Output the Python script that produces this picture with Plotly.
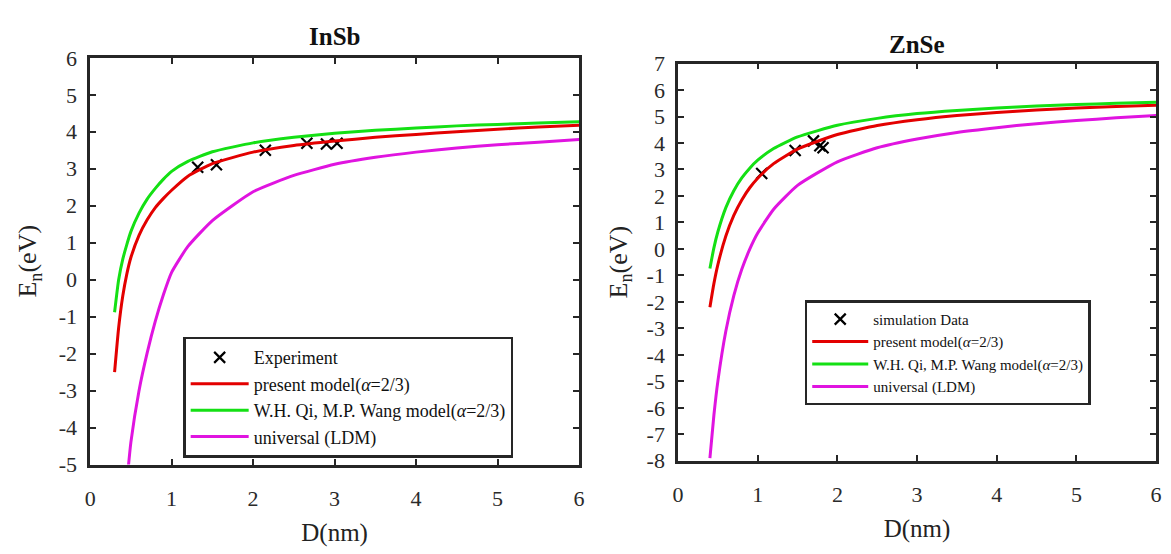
import plotly.graph_objects as go

FONT = "Liberation Serif"
AX = "#262626"

# ---------------- InSb data ----------------
insb_x = [0.3, 0.35, 0.4, 0.45, 0.5, 0.6, 0.7, 0.8, 0.9, 1.0, 1.2, 1.5, 2.0, 2.5, 3.0, 3.5, 4.0, 4.5, 5.0, 5.5, 6.0]
insb_present = [-2.5, -1.3, -0.45, 0.15, 0.6, 1.2, 1.62, 1.95, 2.2, 2.42, 2.8, 3.14, 3.45, 3.63, 3.75, 3.85, 3.93, 4.0, 4.07, 4.13, 4.18]
insb_qiwang = [-0.88, 0.0, 0.55, 0.95, 1.3, 1.8, 2.18, 2.47, 2.72, 2.93, 3.2, 3.46, 3.7, 3.85, 3.96, 4.04, 4.1, 4.16, 4.2, 4.24, 4.27]
insb_ldm_x = [0.45, 0.5, 0.6, 0.7, 0.8, 0.9, 1.0, 1.2, 1.5, 2.0, 2.5, 3.0, 3.5, 4.0, 4.5, 5.0, 5.5, 6.0]
insb_ldm = [-5.5, -4.4, -3.0, -1.98, -1.12, -0.4, 0.2, 0.9, 1.6, 2.38, 2.82, 3.12, 3.31, 3.45, 3.56, 3.65, 3.72, 3.79]
insb_exp_x = [1.32, 1.55, 2.15, 2.66, 2.9, 3.03]
insb_exp_y = [3.04, 3.11, 3.5, 3.69, 3.67, 3.69]

# ---------------- ZnSe data ----------------
znse_x = [0.4, 0.45, 0.5, 0.6, 0.7, 0.8, 0.9, 1.0, 1.2, 1.5, 2.0, 2.5, 3.0, 3.5, 4.0, 4.5, 5.0, 5.5, 6.0]
znse_present = [-2.2, -1.31, -0.59, 0.49, 1.27, 1.85, 2.31, 2.67, 3.22, 3.77, 4.32, 4.66, 4.88, 5.04, 5.15, 5.25, 5.32, 5.38, 5.43]
znse_qiwang = [-0.74, 0.04, 0.65, 1.56, 2.2, 2.68, 3.05, 3.35, 3.79, 4.23, 4.67, 4.93, 5.11, 5.23, 5.32, 5.4, 5.45, 5.5, 5.54]
znse_ldm = [-7.9, -6.28, -4.99, -3.1, -1.76, -0.77, -0.01, 0.6, 1.5, 2.4, 3.29, 3.82, 4.15, 4.4, 4.58, 4.73, 4.85, 4.95, 5.04]
znse_sim_x = [1.05, 1.47, 1.7, 1.78, 1.82]
znse_sim_y = [2.85, 3.72, 4.08, 3.9, 3.82]

# ---------------- tick labels ----------------
x_ticks = [0, 1, 2, 3, 4, 5, 6]
x_ticktext = ["0", "1", "2", "3", "4", "5", "6"]
insb_yticks = [6, 5, 4, 3, 2, 1, 0, -1, -2, -3, -4, -5]
insb_yticktext = ["6", "5", "4", "3", "2", "1", "0", "-1", "-2", "-3", "-4", "-5"]
znse_yticks = [7, 6, 5, 4, 3, 2, 1, 0, -1, -2, -3, -4, -5, -6, -7, -8]
znse_yticktext = ["7", "6", "5", "4", "3", "2", "1", "0", "-1", "-2", "-3", "-4", "-5", "-6", "-7", "-8"]

RED = "#e30000"
GREEN = "#14e014"
MAG = "#e014e0"
LW = 3

fig = go.Figure()

marker_style = dict(symbol="x-thin", size=11, color="black", line=dict(width=2.2, color="black"))
spl = dict(shape="spline", smoothing=0.5)

# InSb traces
fig.add_trace(go.Scatter(x=insb_exp_x, y=insb_exp_y, mode="markers", name="Experiment",
                         marker=marker_style, xaxis="x", yaxis="y", legend="legend"))
fig.add_trace(go.Scatter(x=insb_x, y=insb_present, mode="lines", name="present model(<i>α</i>=2/3)",
                         line=dict(color=RED, width=LW, **spl), xaxis="x", yaxis="y", legend="legend"))
fig.add_trace(go.Scatter(x=insb_x, y=insb_qiwang, mode="lines", name="W.H. Qi, M.P. Wang model(<i>α</i>=2/3)",
                         line=dict(color=GREEN, width=LW, **spl), xaxis="x", yaxis="y", legend="legend"))
fig.add_trace(go.Scatter(x=insb_ldm_x, y=insb_ldm, mode="lines", name="universal (LDM)",
                         line=dict(color=MAG, width=LW, **spl), xaxis="x", yaxis="y", legend="legend"))

# ZnSe traces
fig.add_trace(go.Scatter(x=znse_sim_x, y=znse_sim_y, mode="markers", name="simulation Data",
                         marker=marker_style, xaxis="x2", yaxis="y2", legend="legend2"))
fig.add_trace(go.Scatter(x=znse_x, y=znse_present, mode="lines", name="present model(<i>α</i>=2/3)",
                         line=dict(color=RED, width=LW, **spl), xaxis="x2", yaxis="y2", legend="legend2"))
fig.add_trace(go.Scatter(x=znse_x, y=znse_qiwang, mode="lines", name="W.H. Qi, M.P. Wang model(<i>α</i>=2/3)",
                         line=dict(color=GREEN, width=LW, **spl), xaxis="x2", yaxis="y2", legend="legend2"))
fig.add_trace(go.Scatter(x=znse_x, y=znse_ldm, mode="lines", name="universal (LDM)",
                         line=dict(color=MAG, width=LW, **spl), xaxis="x2", yaxis="y2", legend="legend2"))

W, H = 1171, 554

def axis_common():
    return dict(showline=True, linecolor=AX, linewidth=2.5, mirror="allticks",
                ticks="inside", ticklen=6, tickwidth=2, tickcolor=AX,
                showgrid=False, zeroline=False,
                tickfont=dict(family=FONT, size=22, color="#2a2a2a"))

def xaxis(domain, anchor):
    a = axis_common()
    a.update(domain=domain, range=[0, 6], tickvals=x_ticks, ticktext=x_ticktext, anchor=anchor,
             ticklabelstandoff=12,
             title=dict(text="D(nm)", font=dict(family=FONT, size=25, color="#222"), standoff=14))
    return a

def yaxis(domain, rng, vals, text, anchor, standoff):
    a = axis_common()
    a.update(domain=domain, range=rng, tickvals=vals, ticktext=text, anchor=anchor,
             ticklabelstandoff=6,
             title=dict(text="E<sub>n</sub>(eV)", font=dict(family=FONT, size=26, color="#222"), standoff=standoff))
    return a

fig.update_layout(
    width=W, height=H,
    margin=dict(l=0, r=0, t=0, b=0),
    paper_bgcolor="white", plot_bgcolor="white",
    font=dict(family=FONT, color="#111"),
    xaxis=xaxis([85 / W, 579 / W], "y"),
    yaxis=yaxis([1 - 474 / H, 1 - 48 / H], [-5, 6], insb_yticks, insb_yticktext, "x", 15),
    xaxis2=xaxis([679 / W, 1162 / W], "y2"),
    yaxis2=yaxis([1 - 470 / H, 1 - 54 / H], [-8, 7], znse_yticks, znse_yticktext, "x2", 12),
    showlegend=True,
    legend=dict(x=179 / W, y=1 - 340 / H, xanchor="left", yanchor="top",
                bgcolor="white", bordercolor=AX, borderwidth=2.5,
                font=dict(family=FONT, size=18, color="#111"), itemwidth=58,
                entrywidth=355, entrywidthmode="pixels",
                tracegroupgap=0),
    legend2=dict(x=807 / W, y=1 - 302 / H, xanchor="left", yanchor="top",
                 bgcolor="white", bordercolor=AX, borderwidth=2.5,
                 font=dict(family=FONT, size=15, color="#111"), itemwidth=56,
                 entrywidth=300, entrywidthmode="pixels",
                 tracegroupgap=0),
    annotations=[
        dict(text="<b>InSb</b>", x=(85 + 579) / 2 / W, y=1 - 26 / H, xref="paper", yref="paper",
             xanchor="center", yanchor="middle",
             showarrow=False, font=dict(family=FONT, size=25, color="#111")),
        dict(text="<b>ZnSe</b>", x=(679 + 1162) / 2 / W, y=1 - 34 / H, xref="paper", yref="paper",
             xanchor="center", yanchor="middle",
             showarrow=False, font=dict(family=FONT, size=25, color="#111")),
    ],
)

fig.write_html("out.html")
